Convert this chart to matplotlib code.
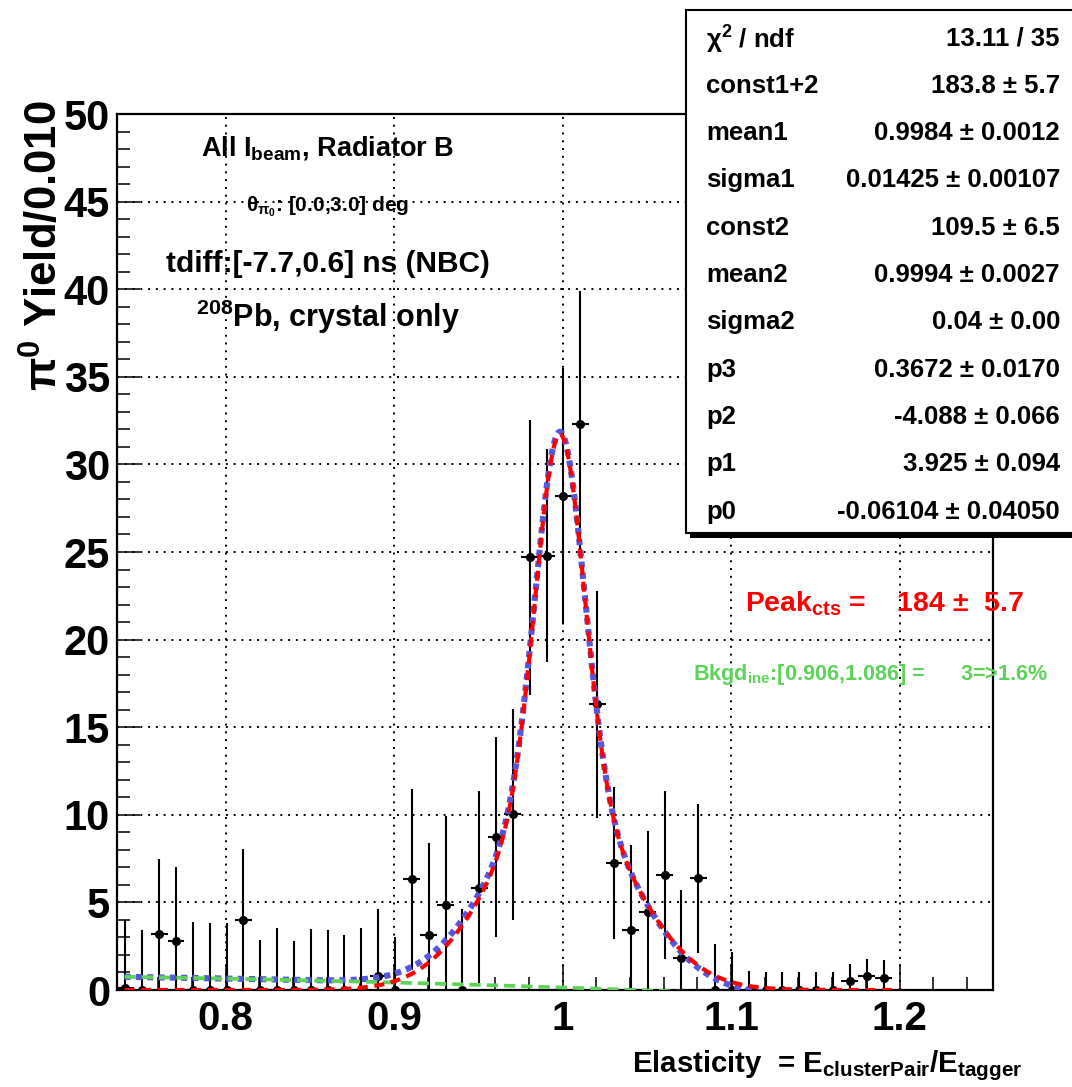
import numpy as np
import matplotlib
matplotlib.use("Agg")
import matplotlib.pyplot as plt
from matplotlib.patches import Rectangle

# ---------------- data ----------------
bin_low = 0.7355
bin_width = 0.010
yields = [0.1, 0, 3.21, 2.79, 0, 0, 0, 3.99, 0, 0,
          0, 0, 0, 0, 0, 0.8, 0, 6.31, 3.12, 4.85,
          0, 5.83, 8.72, 10.02, 24.7, 24.8, 28.2, 32.3, 16.3, 7.26,
          3.4, 4.47, 6.58, 1.8, 6.37, 0, 0, 0, 0, 0,
          0, 0, 0, 0.51, 0.8, 0.7]
errors = [3.9, 3.42, 4.28, 4.24, 3.86, 3.80, 3.8, 4.05, 2.85, 3.55,
          2.79, 3.48, 3.40, 3.14, 3.53, 3.85, 3.04, 5.15, 5.28, 5.07,
          4.6, 5.5, 5.7, 6.0, 7.85, 6.1, 7.3, 7.6, 6.5, 4.35,
          4.9, 4.6, 4.8, 3.9, 4.25, 2.62, 2.19, 1.08, 1.05, 1.0,
          1.0, 1.0, 1.05, 0.97, 0.95, 1.0]

# fit parameters (from the stats box)
const12 = 183.8
mean1 = 0.9984
sigma1 = 0.01425
const2 = 109.5
mean2 = 0.9994
sigma2 = 0.04
p3, p2, p1, p0 = 0.3672, -4.088, 3.925, -0.06104
fit_range = (0.74, 1.20)

stat_labels = ["χ$^{2}$ / ndf", "const1+2", "mean1", "sigma1", "const2", "mean2",
               "sigma2", "p3", "p2", "p1", "p0"]
stat_values = ["13.11 / 35", "183.8 ± 5.7", "0.9984 ± 0.0012", "0.01425 ± 0.00107",
               "109.5 ± 6.5", "0.9994 ± 0.0027", "0.04 ± 0.00", "0.3672 ± 0.0170",
               "-4.088 ± 0.066", "3.925 ± 0.094", "-0.06104 ± 0.04050"]

# ---------------- style ----------------
FONT = "Liberation Sans"
plt.rcParams['font.family'] = [FONT, 'DejaVu Sans']
plt.rcParams['font.weight'] = 'bold'
plt.rcParams['mathtext.fontset'] = 'custom'
plt.rcParams['mathtext.rm'] = FONT + ':bold'
plt.rcParams['mathtext.it'] = FONT + ':bold'
plt.rcParams['mathtext.bf'] = FONT + ':bold'
plt.rcParams['mathtext.sf'] = FONT + ':bold'

W, H = 1072, 1087
fig = plt.figure(figsize=(W / 100, H / 100), dpi=100)

def fx(px):
    return px / W

def fy(py):
    return 1 - py / H

ax = fig.add_axes([fx(117), fy(990), (993 - 117) / W, (990 - 114) / H])
ax.set_xlim(0.7355, 1.2555)
ax.set_ylim(0, 50)

# grid
ax.set_xticks([0.8, 0.9, 1.0, 1.1, 1.2])
ax.set_xticklabels(["0.8", "0.9", "1", "1.1", "1.2"])
ax.set_xticks(np.arange(0.74, 1.2555, 0.02), minor=True)
ax.set_yticks(np.arange(0, 51, 5))
ax.set_yticks(np.arange(0, 51, 1), minor=True)
ax.grid(True, which='major', color='black', linestyle=(0, (1, 3)), linewidth=1.4)
ax.set_axisbelow(True)

ax.tick_params(which='both', direction='in', top=False, right=False, width=1.1)
ax.tick_params(axis='x', which='major', length=19, pad=7, labelsize=29)
ax.tick_params(axis='x', which='minor', length=9.5)
ax.tick_params(axis='y', which='major', length=16.5, pad=5, labelsize=30)
ax.tick_params(axis='y', which='minor', length=9.5)
for sp in ax.spines.values():
    sp.set_linewidth(1.6)

# data points
centers = bin_low + bin_width * (np.arange(len(yields)) + 0.5)
ax.errorbar(centers, yields, yerr=errors, xerr=bin_width / 2, fmt='o', color='black',
            markersize=5.5, elinewidth=1.5, capsize=0, zorder=5)

# fit curves
xf = np.linspace(fit_range[0], fit_range[1], 800)

def gauss(x, area, mu, sig):
    return area * bin_width / (np.sqrt(2 * np.pi) * sig) * np.exp(-0.5 * ((x - mu) / sig) ** 2)

sig_curve = gauss(xf, const12 - const2, mean1, sigma1) + gauss(xf, const2, mean2, sigma2)
bkg_curve = p0 + p1 * xf + p2 * xf ** 2 + p3 * xf ** 3
tot_curve = sig_curve + bkg_curve

ax.plot(xf, tot_curve, color='#5656e0', linewidth=4.4, linestyle=(0, (1, 0.85)),
        dash_capstyle='butt', zorder=6)
ax.plot(xf, bkg_curve, color='#5ed35a', linewidth=2.7, linestyle=(0, (3.0, 1.6)),
        dash_capstyle='butt', zorder=6.5)
ax.plot(xf, sig_curve, color='#ff0000', linewidth=3.0, linestyle=(0, (2.4, 1.6)),
        dash_capstyle='butt', zorder=7)

# axis titles
fig.text(fx(1022), fy(1072), "Elasticity  = E$_{\\rm clusterPair}$/E$_{\\rm tagger}$",
         ha='right', va='baseline', fontsize=21.2, fontweight='bold')
fig.text(fx(45), fy(100), "π$^{0}$ Yield/0.010", rotation=90, ha='center', va='top',
         fontsize=31.5, fontweight='bold')

# text annotations in the plot
fig.text(fx(328), fy(156), "All I$_{\\rm beam}$, Radiator B", ha='center', va='baseline',
         fontsize=19.5, fontweight='bold')
fig.text(fx(328), fy(211), "θ$_{\\pi_{0}}$: [0.0,3.0] deg", ha='center', va='baseline',
         fontsize=15, fontweight='bold')
fig.text(fx(328), fy(272), "tdiff:[-7.7,0.6] ns (NBC)", ha='center', va='baseline',
         fontsize=21.5, fontweight='bold')
fig.text(fx(328), fy(327), "$^{208}$Pb, crystal only", ha='center', va='baseline',
         fontsize=22, fontweight='bold')

fig.text(fx(745), fy(611), "Peak$_{\\rm cts}$ =    184 ±  5.7", ha='left', va='baseline',
         fontsize=20.4, fontweight='bold', color='#ff0000')
fig.text(fx(693), fy(680), "Bkgd$_{\\rm ine}$:[0.906,1.086] =      3=>1.6%", ha='left',
         va='baseline', fontsize=15.6, fontweight='bold', color='#5ed35a')

# stats box
bx0, by0, bx1, by1 = 686, 10, 1100, 533
shadow = Rectangle((fx(bx0 + 4), fy(by1 + 5)), fx(bx1 - bx0), (by1 - by0) / H,
                   transform=fig.transFigure, facecolor='black', edgecolor='none', zorder=10)
box = Rectangle((fx(bx0), fy(by1)), fx(bx1 - bx0), (by1 - by0) / H,
                transform=fig.transFigure, facecolor='white', edgecolor='black',
                linewidth=1.5, zorder=11)
fig.add_artist(shadow)
fig.add_artist(box)
for i, (lab, val) in enumerate(zip(stat_labels, stat_values)):
    yc = 36 + 47.3 * i
    fig.text(fx(706), fy(yc), lab, ha='left', va='center_baseline', fontsize=18.5,
             fontweight='bold', zorder=12)
    fig.text(fx(1060), fy(yc), val, ha='right', va='center_baseline', fontsize=18.5,
             fontweight='bold', zorder=12)

fig.savefig("out.png", dpi=100)
